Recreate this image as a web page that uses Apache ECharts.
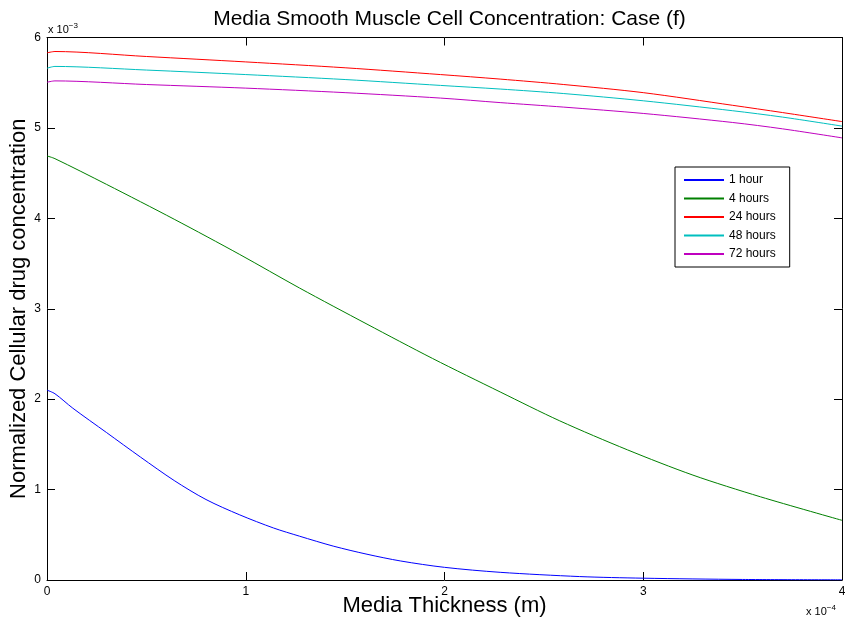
<!DOCTYPE html>
<html>
<head>
<meta charset="utf-8">
<script src="https://cdn.jsdelivr.net/npm/echarts@6/dist/echarts.min.js"></script>
<style>html,body{margin:0;padding:0;background:#fff}#c{width:845px;height:622px}</style>
</head>
<body>
<div id="c"></div>
<script>
// x in units of 1e-4 m, y in units of 1e-3
const seriesNames = ['1 hour', '4 hours', '24 hours', '48 hours', '72 hours'];
const xTicks = [0, 1, 2, 3, 4];
const yTicks = [0, 1, 2, 3, 4, 5, 6];

const x1h = [0, 0.04, 0.13, 0.30, 0.47, 0.64, 0.80, 0.97, 1.14, 1.27, 1.44, 1.61, 1.78, 2.0, 2.28, 2.68, 3.0, 3.5, 4.0];
const y1h = [2.10, 2.06, 1.90, 1.63, 1.36, 1.10, 0.89, 0.72, 0.575, 0.485, 0.375, 0.285, 0.21, 0.14, 0.085, 0.038, 0.02, 0.006, 0.002];

const x4h = [0, 0.04, 0.30, 0.64, 0.97, 1.27, 1.61, 1.94, 2.28, 2.58, 2.92, 3.25, 3.59, 4.0];
const y4h = [4.69, 4.66, 4.375, 3.99, 3.60, 3.23, 2.83, 2.45, 2.08, 1.76, 1.44, 1.16, 0.92, 0.66];

const xTop = [0, 0.04, 0.5, 1.0, 1.5, 1.98, 2.28, 2.6, 3.0, 3.45, 3.7, 4.0];
const y24h = [5.83, 5.845, 5.79, 5.73, 5.665, 5.59, 5.54, 5.48, 5.39, 5.25, 5.17, 5.07];
const y48h = [5.66, 5.68, 5.64, 5.59, 5.535, 5.47, 5.43, 5.38, 5.30, 5.19, 5.12, 5.02];
const y72h = [5.505, 5.52, 5.48, 5.44, 5.39, 5.33, 5.28, 5.23, 5.16, 5.06, 4.99, 4.89];

const colors = ['#0000ff', '#008000', '#ff0000', '#00bfbf', '#bf00bf'];

function pairs(xs, ys) { return xs.map((x, i) => [x, ys[i]]); }
const dataSets = [pairs(x1h, y1h), pairs(x4h, y4h), pairs(xTop, y24h), pairs(xTop, y48h), pairs(xTop, y72h)];

const chart = echarts.init(document.getElementById('c'));
const font = 'Liberation Sans, Arial, Helvetica, sans-serif';
const axisCommon = {
  type: 'value',
  axisLine: { show: true, onZero: false, lineStyle: { color: '#000', width: 1 } },
  axisTick: { show: true, inside: true, length: 8, lineStyle: { color: '#000', width: 1 } },
  splitLine: { show: false }
};
chart.setOption({
  animation: false,
  backgroundColor: '#fff',
  color: colors,
  title: {
    text: 'Media Smooth Muscle Cell Concentration: Case (f)',
    left: 444.5, textAlign: 'center', top: 4,
    textStyle: { fontFamily: font, fontSize: 21, fontWeight: 'normal', color: '#000' }
  },
  grid: { left: 47, top: 37.5, right: 3, bottom: 42, containLabel: false, outerBoundsMode: 'none' },
  legend: {
    orient: 'vertical', left: 675, top: 167,
    data: seriesNames,
    itemWidth: 40, itemHeight: 10, itemGap: 6.5,
    padding: [7, 14, 7, 8],
    borderColor: '#000', borderWidth: 1, backgroundColor: '#fff',
    itemStyle: { opacity: 0 },
    textStyle: { fontFamily: font, fontSize: 12, color: '#000' }
  },
  xAxis: [
    Object.assign({}, axisCommon, {
      position: 'bottom', min: 0, max: 4, interval: 1,
      name: 'Media Thickness (m)', nameLocation: 'middle', nameGap: 15, nameMoveOverlap: false,
      nameTextStyle: { fontFamily: font, fontSize: 22, color: '#000' },
      axisLabel: { fontFamily: font, fontSize: 12, color: '#000', margin: 6,
        formatter: v => String(xTicks[xTicks.indexOf(v)]) }
    }),
    Object.assign({}, axisCommon, {
      position: 'top', min: 0, max: 4, interval: 1, axisLabel: { show: false }
    })
  ],
  yAxis: [
    Object.assign({}, axisCommon, {
      position: 'left', min: 0, max: 6, interval: 1,
      name: 'Normalized Cellular drug concentration', nameLocation: 'middle', nameGap: 17, nameMoveOverlap: false,
      nameTextStyle: { fontFamily: font, fontSize: 22, color: '#000' },
      axisLabel: { fontFamily: font, fontSize: 12, color: '#000', margin: 6,
        formatter: v => String(yTicks[yTicks.indexOf(v)]) }
    }),
    Object.assign({}, axisCommon, {
      position: 'right', min: 0, max: 6, interval: 1, axisLabel: { show: false }
    })
  ],
  series: seriesNames.map((n, i) => ({
    name: n, type: 'line', xAxisIndex: 0, yAxisIndex: 0,
    data: dataSets[i], symbol: 'none', smooth: 0.3,
    lineStyle: { width: 1, color: colors[i] }, itemStyle: { color: colors[i] }
  })),
  graphic: [
    { type: 'text', left: 48, top: 22, style: {
      text: '{a|x 10}{b|−3}', fill: '#000',
      rich: { a: { fontFamily: font, fontSize: 11, fill: '#000' }, b: { fontFamily: font, fontSize: 8, fill: '#000', verticalAlign: 'top', padding: [0, 0, 8, 0] } }
    } },
    { type: 'text', left: 806, top: 604, style: {
      text: '{a|x 10}{b|−4}', fill: '#000',
      rich: { a: { fontFamily: font, fontSize: 11, fill: '#000' }, b: { fontFamily: font, fontSize: 8, fill: '#000', verticalAlign: 'top', padding: [0, 0, 8, 0] } }
    } }
  ]
});
</script>
</body>
</html>
